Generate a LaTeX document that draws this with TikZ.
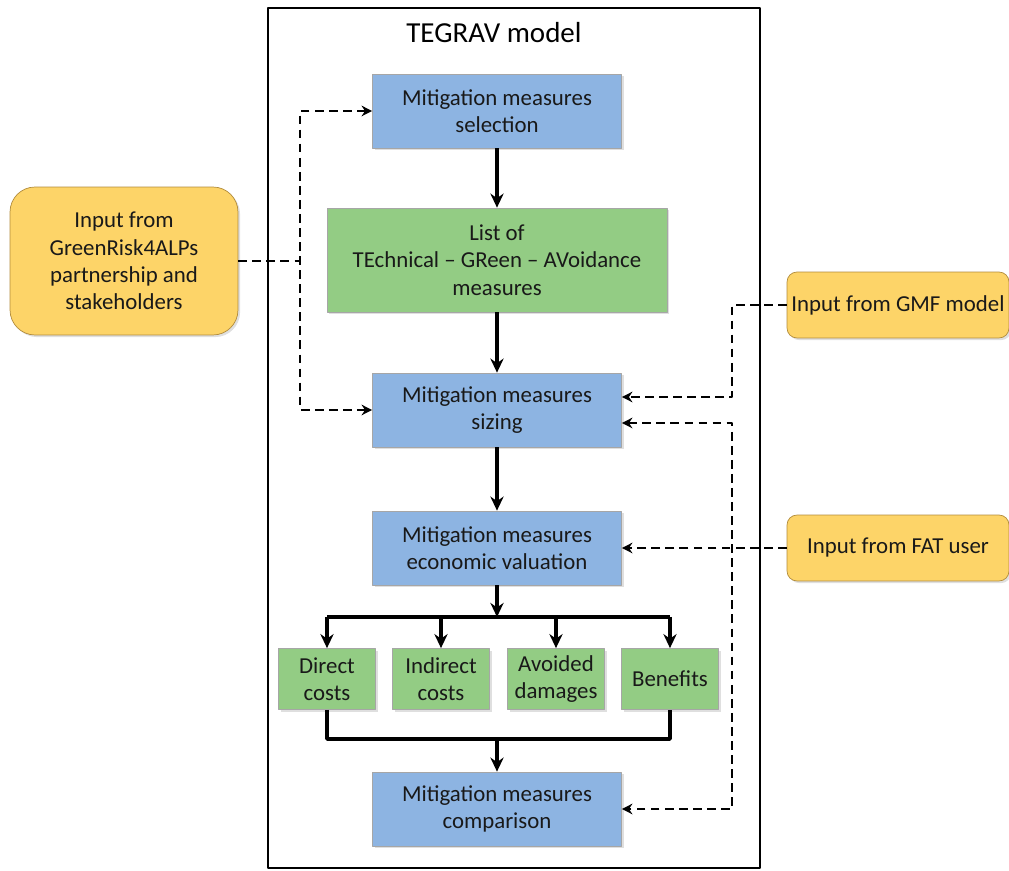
\documentclass[tikz,border=0pt]{standalone}
\usepackage{fontspec}
\setmainfont{Carlito}
\usetikzlibrary{arrows.meta,shadows}
\definecolor{mblue}{RGB}{141,180,226}
\definecolor{mgreen}{RGB}{147,204,132}
\definecolor{myellow}{RGB}{253,212,104}
\definecolor{myedge}{RGB}{178,140,60}
\begin{document}
\begin{tikzpicture}[x=0.02cm,y=-0.02cm,font=\fontsize{13}{15.5}\selectfont,line join=round,>={Stealth[length=8pt,width=7.5pt]},
	box/.style={draw=black!35,align=center,text=black!90,inner sep=2pt,drop shadow={opacity=0.25,shadow xshift=1.2pt,shadow yshift=-1.2pt}},
	mbox/.style={box,fill=mblue,minimum width=4.98cm,minimum height=1.48cm},
	gbox/.style={box,fill=mgreen,minimum width=1.94cm,minimum height=1.22cm},
	ibox/.style={box,draw=myedge,fill=myellow,rounded corners=0.2cm,minimum width=4.44cm,minimum height=1.32cm},
	flow/.style={->,line width=2pt},
	dflow/.style={line width=1.7pt,dash pattern=on 5pt off 3pt,>={Stealth[length=6pt,width=6pt]}}]
	\useasboundingbox (0,0) rectangle (1009,871);
	\draw[line width=1.5pt] (268,8) rectangle (760,868);
	\node (title) at (494,33) {\fontsize{16.5}{19}\selectfont TEGRAV model};
	% main chain
	\node[mbox] (sel) at (497,111) {Mitigation measures\\selection};
	\node[box,fill=mgreen,minimum width=6.8cm,minimum height=2.08cm] (list) at (497,260) {List of\\TEchnical -- GReen -- AVoidance\\measures};
	\node[mbox] (siz) at (497,410) {Mitigation measures\\sizing};
	\node[mbox] (val) at (497,548) {Mitigation measures\\economic valuation};
	\node[gbox] (dc) at (327,679) {Direct\\costs};
	\node[gbox] (ic) at (441,679) {Indirect\\costs};
	\node[gbox] (ad) at (556,679) {Avoided\\damages};
	\node[gbox] (bf) at (670,679) {Benefits};
	\node[mbox] (cmp) at (497,809) {Mitigation measures\\comparison};
	% inputs
	\node[ibox,rounded corners=0.5cm,minimum width=4.56cm,minimum height=2.96cm] (inp) at (124,261) {Input from\\GreenRisk4ALPs\\partnership and\\stakeholders};
	\node[ibox] (gmf) at (898,305) {Input from GMF model};
	\node[ibox] (fat) at (898,548) {Input from FAT user};
	\coordinate (busa) at (497,617);
	\coordinate (busb) at (497,739);
	\coordinate (lx) at (300,0);
	\coordinate (rx) at (732,0);
	\coordinate (s1) at ([yshift=0.26cm]siz.east);
	\coordinate (s2) at ([yshift=-0.26cm]siz.east);
	\draw[flow] (sel) -- (list);
	\draw[flow] (list) -- (siz);
	\draw[flow] (siz) -- (val);
	\draw[flow] (val) -- (busa);
	\draw[line width=2pt] (busa -| dc.north) -- (busa -| bf.north);
	\foreach \n in {dc,ic,ad,bf} \draw[flow] (busa -| \n.north) -- (\n.north);
	\draw[line width=2pt] (dc.south) |- (busb) -| (bf.south);
	\draw[flow] (busb) -- (cmp);
	% dashed inputs
	\draw[dflow] (inp.east) -- (inp.east -| lx);
	\draw[dflow,<->] (sel.west) -| (siz.west -| lx) -- (siz.west);
	\draw[dflow,->] (gmf.west) -| (s1 -| rx) -- (s1);
	\draw[dflow,<->] (s2) -| (cmp.east -| rx) -- (cmp.east);
	\draw[dflow,->] (fat.west) -- (val.east);
\end{tikzpicture}
\end{document}
